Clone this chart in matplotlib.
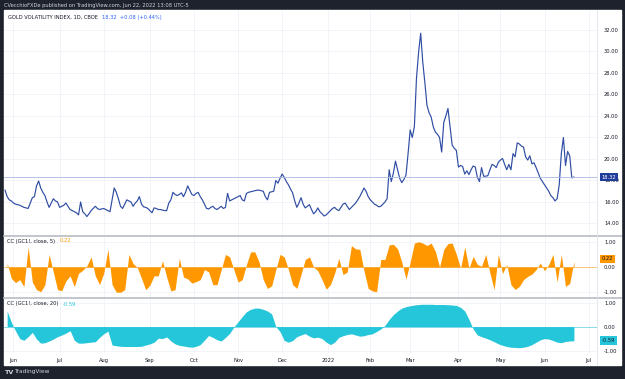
import numpy as np
import pandas as pd
import matplotlib
matplotlib.use("Agg")
import matplotlib.pyplot as plt
from matplotlib.lines import Line2D
from matplotlib.transforms import blended_transform_factory

# GVZ daily closes, 2021-05-25 .. 2022-06-22 (one value per trading day)
gvz = [
    17.1, 16.5, 16.2, 16.1, 15.9, 15.8, 15.75, 15.7, 15.6, 15.5,
    15.45, 15.4, 15.9, 16.4, 16.5, 17.5, 17.95, 17.3, 16.9, 16.6,
    16.0, 15.5, 15.9, 16.3, 16.1, 16.0, 15.5, 15.6, 15.7, 15.9,
    15.6, 15.3, 15.2, 15.1, 15.0, 14.8, 16.0, 15.1, 14.9, 14.65,
    14.9, 15.2, 15.4, 15.6, 15.4, 15.3, 15.35, 15.4, 15.3, 15.2,
    15.1, 16.2, 17.3, 16.9, 16.3, 15.6, 15.4, 15.8, 16.2, 16.1,
    16.0, 15.6, 15.9, 16.1, 16.5, 15.8, 15.55, 15.5, 15.4, 15.2,
    15.0, 15.45, 15.4, 15.3, 15.3, 15.25, 15.2, 15.2, 15.9, 16.2,
    16.9, 16.7, 16.6, 16.7, 16.85, 16.5, 16.9, 17.5, 17.1, 16.7,
    16.6, 16.8, 16.9, 16.5, 16.2, 15.8, 15.4, 15.35, 15.5, 15.6,
    15.4, 15.3, 15.45, 15.6, 15.4, 15.5, 16.8, 16.1, 16.2, 16.3,
    16.4, 16.5, 16.6, 16.2, 16.1, 16.8, 16.9, 16.95, 17.0, 17.05,
    17.1, 17.1, 17.05, 17.0, 16.5, 16.2, 16.9, 16.95, 17.0, 18.0,
    17.75, 18.2, 18.6, 18.3, 17.9, 17.6, 17.2, 16.85, 16.1, 15.5,
    15.9, 16.4, 15.8, 15.45, 15.6, 15.75, 15.3, 14.9, 15.1, 15.45,
    15.1, 14.9, 14.7, 14.8, 15.0, 15.2, 15.4, 15.5, 15.3, 15.2,
    15.5, 15.8, 15.9, 15.6, 15.3, 15.5, 15.7, 15.9, 16.2, 16.5,
    16.9, 17.3, 17.0, 16.5, 16.2, 16.0, 15.8, 15.7, 15.55, 15.6,
    15.8, 16.0, 16.3, 19.0, 17.9, 18.7, 19.8, 19.0, 18.2, 17.8,
    18.1, 18.5, 20.5, 22.7, 22.0, 23.0, 27.5, 29.9, 31.7, 29.0,
    27.1, 25.0, 24.3, 23.9, 23.0, 22.5, 22.3, 22.0, 20.65, 23.4,
    24.0, 24.7, 23.0, 21.3, 21.0, 20.8, 19.25, 19.4, 19.3, 18.6,
    18.9, 18.55, 19.0, 19.35, 19.25, 18.3, 17.9, 19.2, 18.4, 18.4,
    18.45, 19.0, 19.5, 19.4, 19.2, 19.7, 19.9, 20.05, 19.5, 19.0,
    19.5, 19.0, 20.5, 20.2, 21.5, 21.4, 21.2, 21.1, 20.2, 19.9,
    20.3, 19.55, 19.65, 19.2, 18.7, 18.2, 17.9, 17.6, 17.3, 17.0,
    16.6, 16.4, 16.1, 16.3, 17.6, 20.5, 22.0, 19.4, 20.7, 20.3,
    18.24, 18.32,
]

# correlation with GC1! (every second bar)
cc5 = [
    0.15, -0.45, -0.62, -0.5, -0.78, 0.8, -0.6, -0.9, -0.98, -0.7,
    0.5, -0.2, -0.9, -0.94, -0.55, -0.35, -0.78, -0.25, -0.13, 0.05,
    0.4, -0.35, -0.7, -0.25, 0.7, -0.7, -1.0, -1.0, -0.9, 0.5,
    0.14, -0.02, -0.45, -0.9, -0.72, -0.35, -0.35, 0.25, -0.4, -0.95,
    -0.9, 0.35, -0.4, -0.47, -0.64, -0.58, -0.5, -0.1, -0.2, -0.7,
    -0.7, -0.1, 0.5, 0.4, -0.1, -0.6, -0.5, 0.1, 0.6, 0.6,
    0.2, -0.5, -0.85, -0.75, -0.1, 0.5, 0.4, -0.1, -0.7, -0.85,
    -0.3, 0.3, 0.4, 0.0, -0.15, -0.5, -0.88, -0.7, -0.25, 0.35,
    -0.3, -0.2, 0.85, 0.72, 0.7, -0.15, -0.85, -0.95, -0.98, 0.3,
    0.3, 0.88, 0.9, 0.72, 0.2, -0.48, 0.2, 0.95, 1.0, 0.95,
    0.85, 0.95, 0.62, 0.0, 0.7, 0.93, 0.95, 0.5, -0.05, 0.8,
    -0.05, 0.42, 0.1, 0.03, 0.5, -0.24, -0.9, 0.5, -0.26, 0.1,
    -0.7, -0.89, -0.77, -0.5, -0.37, -0.28, -0.1, 0.16, -0.15, 0.1,
    0.5, -0.6, 0.5, -0.77, -0.65, 0.22,
]

cc20 = [
    0.65, 0.18, -0.18, -0.5, -0.57, -0.42, -0.24, -0.52, -0.69, -0.67,
    -0.6, -0.52, -0.42, -0.35, -0.27, -0.17, -0.57, -0.69, -0.69, -0.67,
    -0.65, -0.63, -0.45, -0.3, -0.19, -0.77, -0.8, -0.82, -0.83, -0.83,
    -0.83, -0.83, -0.82, -0.77, -0.72, -0.65, -0.48, -0.5, -0.43, -0.6,
    -0.72, -0.78, -0.81, -0.84, -0.86, -0.82, -0.75, -0.56, -0.37, -0.45,
    -0.55, -0.6, -0.45, -0.28, -0.02, 0.2, 0.42, 0.62, 0.72, 0.77,
    0.77, 0.72, 0.65, 0.53, 0.0, -0.21, -0.58, -0.65, -0.58, -0.42,
    -0.35, -0.29, -0.4, -0.47, -0.44, -0.5, -0.65, -0.75, -0.65, -0.45,
    -0.38, -0.33, -0.3, -0.35, -0.4, -0.38, -0.33, -0.3, -0.2, -0.1,
    0.05, 0.3, 0.5, 0.65, 0.77, 0.83, 0.87, 0.9, 0.92, 0.93,
    0.93, 0.93, 0.92, 0.92, 0.92, 0.91, 0.9, 0.88, 0.8, 0.65,
    0.3, -0.1, -0.35, -0.42, -0.48, -0.55, -0.63, -0.72, -0.78, -0.83,
    -0.86, -0.87, -0.88, -0.86, -0.82, -0.75, -0.65, -0.55, -0.5, -0.52,
    -0.58, -0.65, -0.67, -0.62, -0.6, -0.59,
]

holidays = ["2021-05-31", "2021-07-05", "2021-09-06", "2021-11-25",
            "2021-12-24", "2022-01-17", "2022-02-21", "2022-04-15",
            "2022-05-30", "2022-06-20", "2022-07-04"]
price_ticks = [14, 16, 18, 20, 22, 24, 26, 28, 30, 32]
cc_ticks = [-1, 0, 1]

last_txt = "18.32"
chg_txt = "+0.08 (+0.44%)"
cc5_last = "0.22"
cc20_last = "-0.59"

BG = "#1e222d"
BLUE = "#2f4da3"
ORANGE = "#ff9800"
CYAN = "#26c6da"
GRID = "#f0f3fa"
TXT = "#131722"
SEP = "#b8bbc3"
FS = 3.7

W, H = 625, 379


def rect(x0, y0, x1, y1):
    return [x0 / W, 1 - y1 / H, (x1 - x0) / W, (y1 - y0) / H]


# trading-day calendar -> bar index
days = pd.bdate_range("2021-05-25", "2022-07-20")
days = days[~days.isin(pd.to_datetime(holidays))]
month_first = pd.Series(np.arange(len(days)), index=days)
month_first = month_first.groupby([days.year, days.month]).first()
tick_pos = []
tick_lab = []
for (yr, mo), pos in month_first.items():
    if (yr, mo) < (2021, 6) or (yr, mo) > (2022, 7):
        continue
    tick_pos.append(pos)
    tick_lab.append(str(yr) if mo == 1 else pd.Timestamp(yr, mo, 1).strftime("%b"))

x_main = np.arange(len(gvz))
x_cc = np.arange(len(cc5)) * 2 + 1
xlim = (-0.5, 282)

fig = plt.figure(figsize=(W / 100, H / 100), dpi=100, facecolor=BG)
fig.patches.append(plt.Rectangle((4 / W, 1 - 365 / H), 617 / W, 355 / H,
                                 transform=fig.transFigure, color="white", zorder=-5))

ax1 = fig.add_axes(rect(4, 10, 597, 235))
ax2 = fig.add_axes(rect(4, 236, 597, 297))
ax3 = fig.add_axes(rect(4, 299, 597, 353))

for ax in (ax1, ax2, ax3):
    ax.set_zorder(2)
    ax.set_xlim(*xlim)
    ax.set_facecolor("white")
    for s in ax.spines.values():
        s.set_visible(False)
    ax.set_xticks(tick_pos)
    ax.tick_params(axis="both", length=0, labelsize=FS, labelcolor=TXT)
    ax.yaxis.tick_right()
    ax.tick_params(axis="y", pad=5)
    ax.grid(True, color=GRID, lw=0.6)
    ax.set_axisbelow(True)
    ax.set_xticklabels([])

# main pane
ax1.plot(x_main, gvz, color=BLUE, lw=0.85)
ax1.axhline(gvz[-1], color="#a9b8e2", lw=0.6)
ax1.set_ylim(12.93, 33.86)
ax1.set_yticks(price_ticks)
ax1.set_yticklabels([f"{v:.2f}" for v in price_ticks])
tr1 = blended_transform_factory(ax1.transAxes, ax1.transData)
ax1.text(1.008, gvz[-1], last_txt, transform=tr1, fontsize=FS, color="white",
         va="center", ha="left", clip_on=False,
         bbox=dict(boxstyle="square,pad=0.35", fc="#1f3d99", ec="none"))

# CC 5
ax2.fill_between(x_cc, cc5, 0, color=ORANGE, lw=0, interpolate=True)
ax2.axhline(0, color=ORANGE, lw=0.6, alpha=0.6)
ax2.set_ylim(-1.19, 1.23)
ax2.set_yticks(cc_ticks)
ax2.set_yticklabels([f"{v:.2f}" for v in cc_ticks])
tr2 = blended_transform_factory(ax2.transAxes, ax2.transData)
ax2.text(1.008, 0.33, cc5_last, transform=tr2, fontsize=FS, color=TXT,
         va="center", ha="left", clip_on=False,
         bbox=dict(boxstyle="square,pad=0.3", fc=ORANGE, ec="none"))

# CC 20
ax3.fill_between(x_cc, cc20, 0, color=CYAN, lw=0, interpolate=True)
ax3.axhline(0, color=CYAN, lw=0.6, alpha=0.6)
ax3.set_ylim(-1.10, 1.15)
ax3.set_yticks(cc_ticks)
ax3.set_yticklabels([f"{v:.2f}" for v in cc_ticks])
tr3 = blended_transform_factory(ax3.transAxes, ax3.transData)
ax3.text(1.008, cc20[-1], cc20_last, transform=tr3, fontsize=FS, color=TXT,
         va="center", ha="left", clip_on=False,
         bbox=dict(boxstyle="square,pad=0.35", fc=CYAN, ec="none"))
ax3.set_xticklabels(tick_lab)
ax3.tick_params(axis="x", pad=3.5)

# separators
for y in (235.5, 298):
    fig.add_artist(Line2D([4 / W, 621 / W], [1 - y / H] * 2, color=SEP, lw=1.2, zorder=3))
fig.add_artist(Line2D([597 / W] * 2, [1 - 365 / H, 1 - 10 / H], color="#e0e3eb", lw=0.6, zorder=3))


def legend(x, y, name, value, color):
    t = fig.text(x / W, 1 - y / H, name, fontsize=FS, color=TXT, va="center", zorder=4)
    fig.texts.remove(t)
    fig.add_artist(t)
    a = plt.annotate(value, xy=(1, 0.5), xycoords=t, xytext=(3, 0),
                     textcoords="offset points", fontsize=FS, color=color,
                     va="center", ha="left", annotation_clip=False)
    a.remove()
    fig.add_artist(a)


legend(8, 17, "GOLD VOLATILITY INDEX, 1D, CBOE", f"{last_txt}  {chg_txt}", "#2962ff")
legend(7, 241, "CC (GC1!, close, 5)", cc5_last, ORANGE)
legend(7, 304, "CC (GC1!, close, 20)", cc20_last, CYAN)

# header / footer
fig.text(4 / W, 1 - 5 / H, "CVecchioFXDe published on TradingView.com, Jun 22, 2022 13:08 UTC-5",
         fontsize=FS, color="#d1d4dc", va="center")
fig.text(5 / W, 1 - 372 / H, "TV", fontsize=4.6, color="#d1d4dc", va="center",
         fontweight="bold")
fig.text(14 / W, 1 - 372 / H, "TradingView", fontsize=4.2, color="#d1d4dc", va="center")

fig.savefig("out.png", dpi=100, facecolor=BG)
